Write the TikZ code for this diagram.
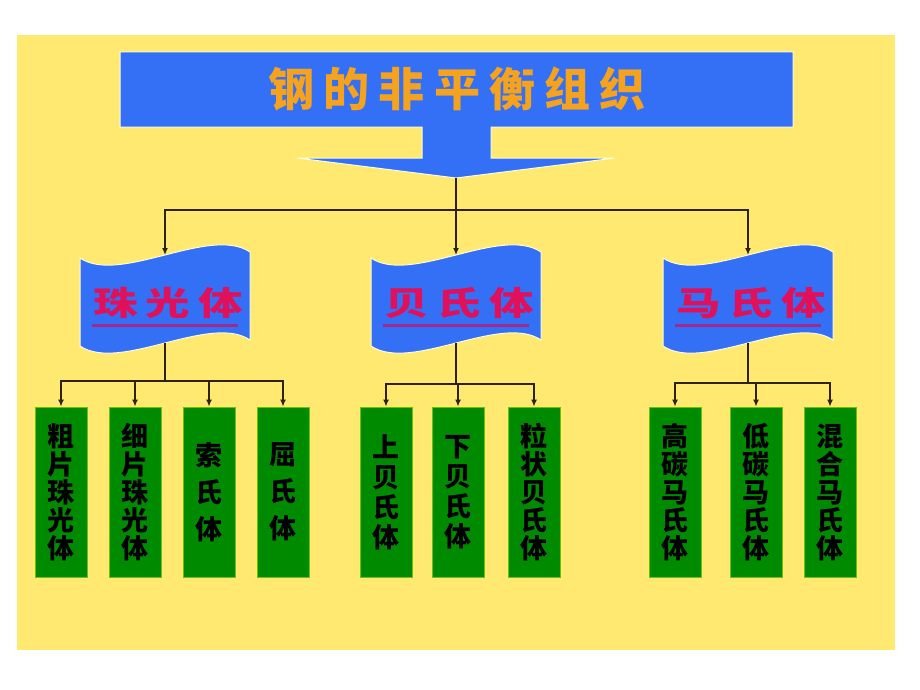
\documentclass[tikz,border=0pt]{standalone}
\usepackage{fontspec}
\usepackage{graphicx}
\usetikzlibrary{arrows.meta}

\newfontfamily\cjk{Noto Sans CJK SC}
\newfontfamily\cjkflag{Noto Sans CJK SC}[LetterSpace=18]
\newfontfamily\cjktitle{Noto Sans CJK SC}[LetterSpace=20]

\definecolor{paper}{HTML}{FFE970}
\definecolor{slab}{HTML}{3470F5}
\definecolor{leafgreen}{HTML}{008A00}
\definecolor{inkline}{HTML}{2E2300}
\definecolor{titleorange}{HTML}{F5A21E}
\definecolor{flagred}{HTML}{E0105A}
\definecolor{flagline}{HTML}{A02A8C}

\tikzset{
  link/.style={draw=inkline, line width=1.4pt},
  arrow/.style={link, -{Latex[length=7pt,width=6pt]}},
  flag/.style={fill=slab, draw=white!85!yellow, line width=1pt},
  flagtext/.style={text=flagred, inner sep=0pt,
    font=\cjkflag\bfseries\fontsize{33}{36}\selectfont},
  titletext/.style={text=titleorange, inner sep=0pt,
    font=\cjktitle\bfseries\fontsize{46}{50}\selectfont},
  leaf/.style={fill=leafgreen, draw=leafgreen!55!yellow, line width=0.8pt,
    minimum width=52pt, minimum height=170pt, inner sep=0pt, align=center,
    text=black, font=\cjk\bfseries\fontsize{27}{28}\selectfont},
  leafmid/.style={leaf, font=\cjk\bfseries\fontsize{27}{30}\selectfont},
  leafwide/.style={leaf, font=\cjk\bfseries\fontsize{27}{37}\selectfont}
}

\begin{document}
\begin{tikzpicture}[x=1pt,y=-1pt]
  \useasboundingbox (0,0) rectangle (920,690);
  \fill[white] (0,0) rectangle (920,690);
  \fill[paper] (17,35) rectangle (895,650);

  % title block
  \path[flag] (120,52) -- (793,52) -- (793,127) -- (491,127) -- (491,158)
    -- (615,158) -- (456,178) -- (297,158) -- (422,158) -- (422,127)
    -- (120,127) -- cycle;
  \node[titletext] (title) at (457,89) {钢的非平衡组织};
  \coordinate (apex) at (456,178);
  \coordinate (hub) at (456,210);

  % flags
  \foreach \n/\x/\txt in {pearl/165/珠光体, bain/456/贝氏体, mart/748/马氏体}{
    \path[flag] (\x-85,258) .. controls (\x-45,285) and (\x+45,225) .. (\x+85,252)
      -- (\x+85,340) .. controls (\x+45,313) and (\x-45,373) .. (\x-85,346) -- cycle;
    \node[flagtext] (\n) at (\x+3,303) {\scalebox{1.35}[1]{\txt}};
    \draw[flagline, line width=3pt] (\x-73,325) -- (\x+73,325);
    \coordinate (\n-top) at (\x,255);
    \coordinate (\n-bot) at (\x,343);
  }
  \coordinate (pearl-hub) at (165,381);
  \coordinate (bain-hub) at (456,384);
  \coordinate (mart-hub) at (748,383);

  % leaves
  \node[leaf] (p1) at (61,492) {粗\\片\\珠\\光\\体};
  \node[leaf] (p2) at (135,492) {细\\片\\珠\\光\\体};
  \node[leafwide] (p3) at (209,492) {索\\氏\\体};
  \node[leafwide] (p4) at (283,492) {屈\\氏\\体};
  \node[leafmid] (b1) at (386,492) {上\\贝\\氏\\体};
  \node[leafmid] (b2) at (458,492) {下\\贝\\氏\\体};
  \node[leaf] (b3) at (534,492) {粒\\状\\贝\\氏\\体};
  \node[leaf] (m1) at (675,492) {高\\碳\\马\\氏\\体};
  \node[leaf] (m2) at (756,492) {低\\碳\\马\\氏\\体};
  \node[leaf] (m3) at (830,492) {混\\合\\马\\氏\\体};

  % connectors
  \draw[link] (apex) -- (hub);
  \foreach \n in {pearl,bain,mart}{
    \draw[arrow] (hub) -| (\n-top);
    \draw[link] (\n-bot) -- (\n-hub);
  }
  \foreach \b in {p1,p2,p3,p4} \draw[arrow] (pearl-hub) -| (\b.north);
  \foreach \b in {b1,b2,b3} \draw[arrow] (bain-hub) -| (\b.north);
  \foreach \b in {m1,m2,m3} \draw[arrow] (mart-hub) -| (\b.north);
\end{tikzpicture}
\end{document}
